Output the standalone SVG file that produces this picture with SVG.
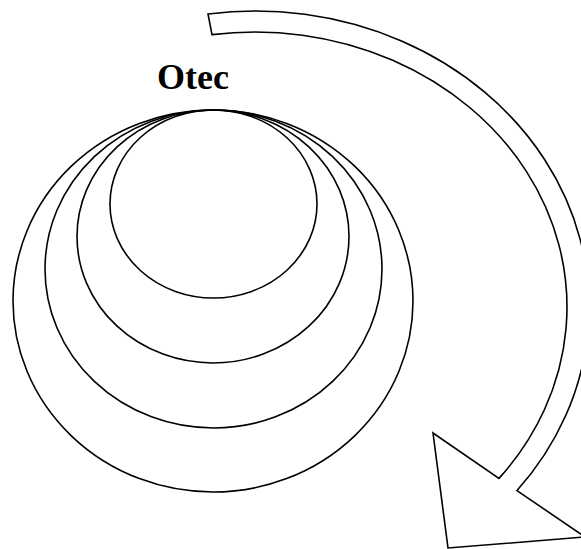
<svg xmlns="http://www.w3.org/2000/svg" width="581" height="549" viewBox="0 0 581 549">
  <style>
    .ring { fill: none; stroke: #000; stroke-width: 1.6; }
    .shape { fill: #fff; stroke: #000; stroke-width: 1.6; stroke-linejoin: miter; }
    .label { font-family: "Liberation Serif", "Times New Roman", serif; font-weight: bold; font-size: 36px; fill: #000; }
  </style>
  <rect width="581" height="549" fill="#fff"/>
  <g id="label-otec">
    <text class="label" x="157" y="89">Otec</text>
  </g>
  <g id="ring-4"><ellipse class="ring" cx="213" cy="301" rx="200" ry="191"/></g>
  <g id="ring-3"><ellipse class="ring" cx="213.5" cy="269" rx="168.5" ry="159"/></g>
  <g id="ring-2"><ellipse class="ring" cx="213" cy="236.5" rx="136" ry="126.5"/></g>
  <g id="ring-1"><ellipse class="ring" cx="213.5" cy="204" rx="103.5" ry="94"/></g>
  <g id="connectors">
    <path id="curved-arrow" class="shape" d="M208,13.95
      A334,296 0 0 1 517,490.59
      L585,537 L448,548 L433,433 L499,478.38
      A312,275 0 0 0 212,34.63 Z"/>
  </g>
</svg>
